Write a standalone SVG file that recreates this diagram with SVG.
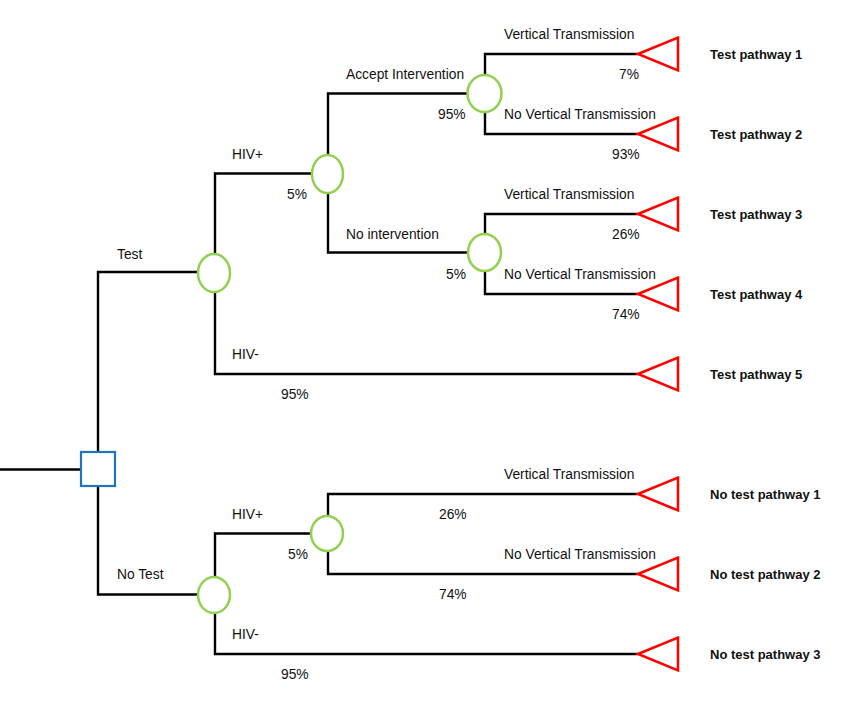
<svg xmlns="http://www.w3.org/2000/svg" width="844" height="704" viewBox="0 0 844 704">
  <defs>
    <style>
      .edge { fill: none; stroke: #000; stroke-width: 2.4; }
      .chance { fill: #fff; stroke: #92D050; stroke-width: 2.5; }
      .decision { fill: #fff; stroke: #1F74C0; stroke-width: 2.2; }
      .terminal { fill: #fff; stroke: #FF0000; stroke-width: 2.5; stroke-linejoin: miter; }
      text { font-family: "Liberation Sans", Arial, sans-serif; font-size: 13.8px; fill: #111; }
      .end { font-weight: bold; font-size: 13px; }
    </style>
    <polygon id="tri" points="0,0 40,-16.5 40,16.5"/>
  </defs>
  <rect width="844" height="704" fill="#fff"/>

  <!-- connectors -->
  <g id="connectors">
    <path class="edge" d="M0,469.5 H81"/>
    <!-- Test branch -->
    <path class="edge" d="M98,452 V272 H198"/>
    <path class="edge" d="M215,254 V173.5 H312"/>
    <path class="edge" d="M215,292 V374 H638"/>
    <path class="edge" d="M328,155 V93.5 H467"/>
    <path class="edge" d="M328,193 V252.5 H468"/>
    <path class="edge" d="M485,75 V54 H638"/>
    <path class="edge" d="M485,112 V134 H638"/>
    <path class="edge" d="M485,234 V214 H638"/>
    <path class="edge" d="M485,271 V294 H638"/>
    <!-- No Test branch -->
    <path class="edge" d="M98,486 V594.5 H198"/>
    <path class="edge" d="M215,577 V533.5 H311"/>
    <path class="edge" d="M215,613 V654 H638"/>
    <path class="edge" d="M328,516 V494 H638"/>
    <path class="edge" d="M328,551 V574 H638"/>
  </g>

  <!-- decision node -->
  <g id="decision">
    <rect class="decision" x="81" y="452" width="34" height="34"/>
  </g>

  <!-- chance nodes -->
  <g id="chance-test"><ellipse class="chance" cx="214" cy="273" rx="16" ry="19"/></g>
  <g id="chance-test-hivpos"><ellipse class="chance" cx="327.5" cy="174" rx="15.5" ry="19"/></g>
  <g id="chance-accept"><ellipse class="chance" cx="484.5" cy="93.5" rx="17" ry="18.5"/></g>
  <g id="chance-nointervention"><ellipse class="chance" cx="484.5" cy="252.5" rx="16.5" ry="18.5"/></g>
  <g id="chance-notest"><ellipse class="chance" cx="214" cy="595" rx="16" ry="18"/></g>
  <g id="chance-notest-hivpos"><ellipse class="chance" cx="327" cy="533.5" rx="16" ry="17.5"/></g>

  <!-- terminal nodes -->
  <g id="t1"><use href="#tri" class="terminal" x="638" y="54"/><text class="end" x="710" y="59">Test pathway 1</text></g>
  <g id="t2"><use href="#tri" class="terminal" x="638" y="134"/><text class="end" x="710" y="139">Test pathway 2</text></g>
  <g id="t3"><use href="#tri" class="terminal" x="638" y="214"/><text class="end" x="710" y="219">Test pathway 3</text></g>
  <g id="t4"><use href="#tri" class="terminal" x="638" y="294"/><text class="end" x="710" y="299">Test pathway 4</text></g>
  <g id="t5"><use href="#tri" class="terminal" x="638" y="374"/><text class="end" x="710" y="379">Test pathway 5</text></g>
  <g id="n1"><use href="#tri" class="terminal" x="638" y="494"/><text class="end" x="710" y="499">No test pathway 1</text></g>
  <g id="n2"><use href="#tri" class="terminal" x="638" y="574"/><text class="end" x="710" y="579">No test pathway 2</text></g>
  <g id="n3"><use href="#tri" class="terminal" x="638" y="654"/><text class="end" x="710" y="659">No test pathway 3</text></g>

  <!-- branch labels -->
  <g id="labels">
    <text x="117" y="259">Test</text>
    <text x="117" y="579">No Test</text>
    <text x="232" y="159">HIV+</text>
    <text x="287" y="199">5%</text>
    <text x="232" y="359">HIV-</text>
    <text x="281" y="399">95%</text>
    <text x="346" y="79">Accept Intervention</text>
    <text x="438" y="119">95%</text>
    <text x="346" y="239">No intervention</text>
    <text x="446" y="279">5%</text>
    <text x="504" y="39">Vertical Transmission</text>
    <text x="619" y="79">7%</text>
    <text x="504" y="119">No Vertical Transmission</text>
    <text x="612" y="159">93%</text>
    <text x="504" y="199">Vertical Transmission</text>
    <text x="612" y="239">26%</text>
    <text x="504" y="279">No Vertical Transmission</text>
    <text x="612" y="319">74%</text>
    <text x="232" y="519">HIV+</text>
    <text x="288" y="559">5%</text>
    <text x="232" y="639">HIV-</text>
    <text x="281" y="679">95%</text>
    <text x="504" y="479">Vertical Transmission</text>
    <text x="439" y="519">26%</text>
    <text x="504" y="559">No Vertical Transmission</text>
    <text x="439" y="599">74%</text>
  </g>
</svg>
